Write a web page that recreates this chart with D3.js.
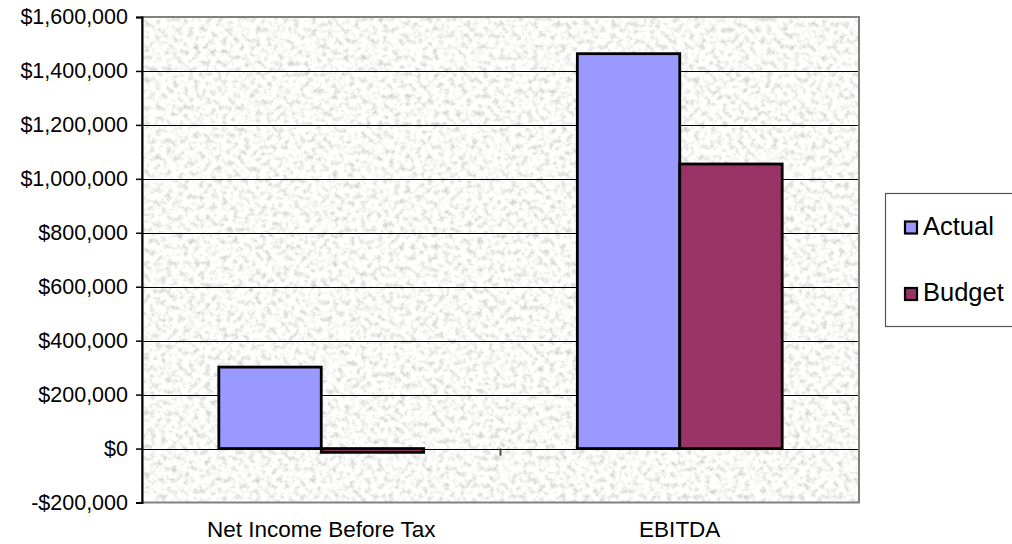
<!DOCTYPE html>
<html><head><meta charset="utf-8">
<script src="https://cdn.jsdelivr.net/npm/d3@7"></script>
<style>
html,body{margin:0;padding:0;background:#fff;}
svg{display:block;font-family:"Liberation Sans",Arial,sans-serif;}
</style></head>
<body>
<svg id="chart" width="1012" height="544"></svg>
<script>
const categories = ["Net Income Before Tax", "EBITDA"];
const seriesNames = ["Actual", "Budget"];
const actual = [302000, 1464000];
const budget = [-14000, 1055000];
const yTicks = [-200000, 0, 200000, 400000, 600000, 800000, 1000000, 1200000, 1400000, 1600000];
const colors = ["#9999FF", "#993366"];

const svg = d3.select("#chart");
const L = 142, R = 859, T = 17, B = 502.5;

const defs = svg.append("defs");
const f = defs.append("filter").attr("id","granite").attr("x",0).attr("y",0).attr("width","100%").attr("height","100%");
f.append("feTurbulence").attr("type","fractalNoise").attr("baseFrequency","0.18").attr("numOctaves",3).attr("seed",7).attr("result","n");
f.append("feColorMatrix").attr("in","n").attr("type","matrix")
 .attr("values","0.85 0 0 0 0.52  0.85 0 0 0 0.52  0.82 0 0 0 0.52  0 0 0 0 1");

const y = d3.scaleLinear().domain([-200000, 1600000]).range([B, T]);
const x = d3.scaleBand().domain(categories).range([L, R]).paddingInner(0).paddingOuter(0);
const bw = x.bandwidth() / 3.5;
const xs = d3.scaleBand().domain(seriesNames).range([0.75*bw, 2.75*bw]);

// plot background
svg.append("rect").attr("x",L).attr("y",T).attr("width",R-L).attr("height",B-T)
  .attr("fill","#eeeeec").attr("filter","url(#granite)");

// gridlines
svg.append("g").selectAll("line").data(yTicks.filter(v=>v>-200000 && v<1600000)).join("line")
  .attr("x1",L).attr("x2",R).attr("y1",d=>Math.round(y(d))+0.5).attr("y2",d=>Math.round(y(d))+0.5)
  .attr("stroke","#000").attr("stroke-width",1);

// border (gray)
svg.append("rect").attr("x",L).attr("y",T).attr("width",R-L).attr("height",B-T)
  .attr("fill","none").attr("stroke","#808080").attr("stroke-width",2);

// bars
const data = [];
categories.forEach((c,i)=>{
  data.push({c, s:"Actual", v:actual[i], col:colors[0]});
  data.push({c, s:"Budget", v:budget[i], col:colors[1]});
});
svg.append("g").selectAll("rect").data(data).join("rect")
  .attr("x",d=>x(d.c)+xs(d.s))
  .attr("width",xs.bandwidth())
  .attr("y",d=>Math.min(y(d.v),y(0)))
  .attr("height",d=>Math.abs(y(d.v)-y(0)))
  .attr("fill",d=>d.col).attr("stroke","#000").attr("stroke-width",2.8);

// category ticks on zero line
svg.append("g").selectAll("line").data([x(categories[1])]).join("line")
  .attr("x1",d=>d).attr("x2",d=>d).attr("y1",y(0)).attr("y2",y(0)+7)
  .attr("stroke","#444").attr("stroke-width",2);

// y axis
const yAxis = d3.axisLeft(y).tickValues(yTicks).tickSize(6).tickPadding(8)
  .tickFormat(d => (d<0?"-":"") + "$" + d3.format(",")(Math.abs(d)));
const ga = svg.append("g").attr("transform",`translate(${L},0)`).call(yAxis);
ga.select(".domain").attr("stroke","#000").attr("stroke-width",2);
ga.selectAll(".tick line").attr("stroke","#000").attr("stroke-width",1.5);
ga.selectAll(".tick text").attr("font-size","21.5px").attr("fill","#000")
  .attr("font-family","'Liberation Sans',Arial,sans-serif");

// category labels
svg.append("g").selectAll("text").data(categories).join("text")
  .attr("x",d=>x(d)+x.bandwidth()/2).attr("y",536.5)
  .attr("text-anchor","middle").attr("font-size","22.5px").attr("fill","#000")
  .text(d=>d);

// legend
const lg = svg.append("g");
lg.append("rect").attr("x",885.5).attr("y",193.5).attr("width",140).attr("height",133)
  .attr("fill","#fff").attr("stroke","#555").attr("stroke-width",1.2);
const items = lg.selectAll("g").data(seriesNames).join("g")
  .attr("transform",(d,i)=>`translate(905,${221.5 + i*66.5})`);
items.append("rect").attr("width",12).attr("height",12)
  .attr("fill",(d,i)=>colors[i]).attr("stroke","#000").attr("stroke-width",2.2);
items.append("text").attr("x",18).attr("y",13).attr("font-size","25.5px").attr("fill","#000").text(d=>d);
</script>
</body></html>
